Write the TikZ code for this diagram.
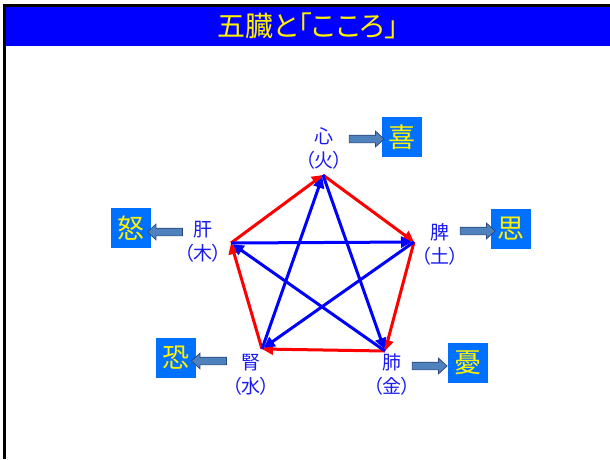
\documentclass[tikz,border=0pt]{standalone}
\usepackage{fontspec}
\setmainfont[RawFeature=+palt]{Noto Sans CJK JP}
\usetikzlibrary{arrows.meta}
\usetikzlibrary{shapes.arrows}

\definecolor{barblue}{RGB}{0,0,255}
\definecolor{boxblue}{RGB}{0,112,255}
\definecolor{arrowfill}{RGB}{79,129,189}
\definecolor{arrowline}{RGB}{40,70,120}
\definecolor{organblue}{RGB}{25,25,240}

\begin{document}
\begin{tikzpicture}[x=1pt,y=-1pt]
	\tikzstyle{organ}=[text=organblue,font=\fontsize{19}{24}\selectfont,align=center,inner sep=0pt]
	\tikzstyle{kokoro}=[fill=boxblue,text=yellow,font=\fontsize{27}{27}\selectfont,minimum size=40pt,inner sep=0pt]
	\tikzstyle{yajirushi}=[single arrow,draw=arrowline,fill=arrowfill,line width=0.7pt,minimum height=35pt,text width=0pt,inner xsep=0pt,inner ysep=3.5pt,single arrow head extend=4pt,single arrow tip angle=85]
	\tikzstyle{sousei}=[draw=red,line width=3pt,-{Triangle[length=11pt,width=11pt]}]
	\tikzstyle{soukoku}=[draw=blue,line width=3pt,-{Triangle[length=11pt,width=11pt]},shorten >=2pt]
	\useasboundingbox (0,0) rectangle (610,459);
	% frame and title bar
	\fill[black] (3,4) rectangle (610,6.5);
	\fill[black] (3,4) rectangle (5.5,459);
	\fill[barblue] (5.5,6.5) rectangle (610,46);
	\node[text=yellow,font=\fontsize{28}{28}\selectfont] (title) at (308,26) {五臓と「こころ」};
	% the five organs
	\node[organ] (shin) at (324,148) {心\\（火）};
	\node[organ] (kan) at (203,242) {肝\\（木）};
	\node[organ] (hi) at (440,244) {脾\\（土）};
	\node[organ] (jin) at (251,375) {腎\\（水）};
	\node[organ] (hai) at (392,375) {肺\\（金）};
	\coordinate (T) at (323,175);
	\coordinate (L) at (231,243);
	\coordinate (R) at (414,242);
	\coordinate (BL) at (262,349);
	\coordinate (BR) at (385,351);
	% emotions
	\node[kokoro] (ki) at (402,137) {喜};
	\node[kokoro] (do) at (131,228) {怒};
	\node[kokoro] (shi) at (511,229) {思};
	\node[kokoro] (kyo) at (176,358) {恐};
	\node[kokoro] (yu) at (468,363) {憂};
	\node[yajirushi] (a1) at (364.5,139) {};
	\node[yajirushi,shape border rotate=180] (a2) at (167,232) {};
	\node[yajirushi] (a3) at (475.5,231) {};
	\node[yajirushi,shape border rotate=180] (a4) at (211,361) {};
	\node[yajirushi] (a5) at (427.5,366) {};
	% generating cycle
	\draw[sousei] (L) -- (T);
	\draw[sousei] (T) -- (R);
	\draw[sousei] (R) -- (BR);
	\draw[sousei] (BR) -- (BL);
	\draw[sousei] (BL) -- (L);
	% controlling cycle
	\draw[soukoku] (L) -- (R);
	\draw[soukoku] (R) -- (BL);
	\draw[soukoku] (BL) -- (T);
	\draw[soukoku] (T) -- (BR);
	\draw[soukoku] (BR) -- (L);
\end{tikzpicture}
\end{document}
